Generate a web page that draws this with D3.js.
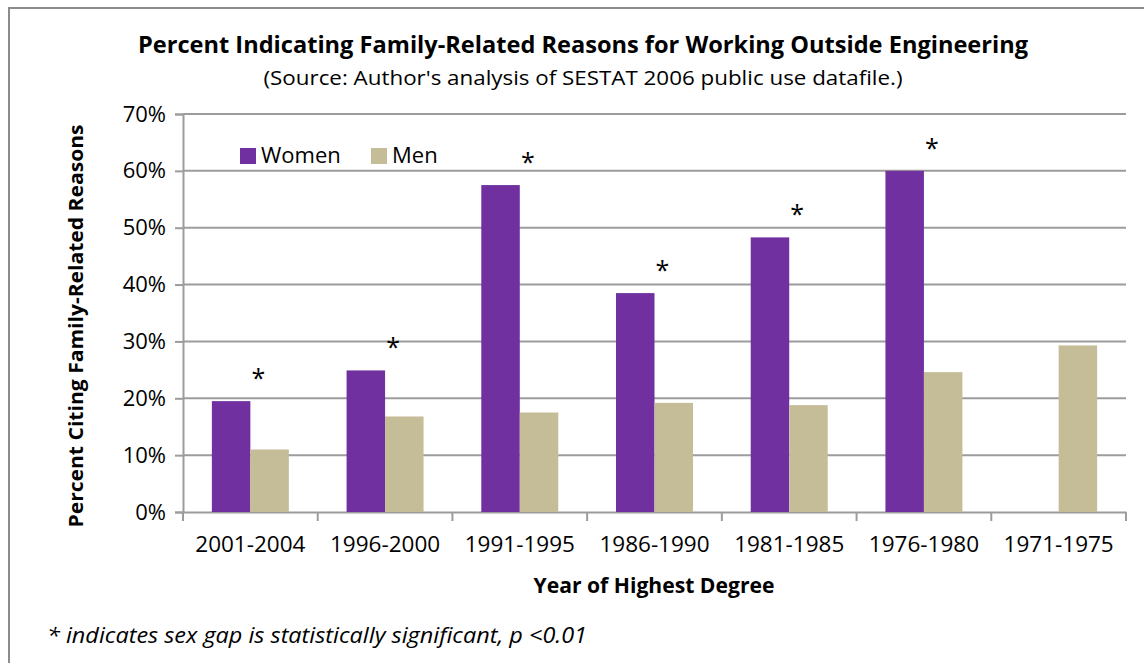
<!DOCTYPE html>
<html>
<head>
<meta charset="utf-8">
<script src="https://cdn.jsdelivr.net/npm/d3@7"></script>
<style>
  body { margin: 0; background: white; }
  text { font-family: "Open Sans", sans-serif; fill: #000; }
</style>
</head>
<body>
<div id="chart"></div>
<script>
// data
var categories = ['2001-2004', '1996-2000', '1991-1995', '1986-1990', '1981-1985', '1976-1980', '1971-1975'];
var women = [0.195, 0.249, 0.575, 0.385, 0.483, 0.600, null];
var men = [0.110, 0.168, 0.175, 0.192, 0.188, 0.246, 0.293];
var significant = [true, true, true, true, true, true, false];
var series = ['Women', 'Men'];
var yTicks = [0, 0.1, 0.2, 0.3, 0.4, 0.5, 0.6, 0.7];

var colors = { Women: '#7030A0', Men: '#C4BD97' };
var grid = '#9C9C9C';

var w = 1144, h = 663;

var svg = d3.select('#chart').append('svg')
  .attr('width', w)
  .attr('height', h);

// outer frame (runs off right and bottom)
svg.append('rect')
  .attr('x', 9).attr('y', 8)
  .attr('width', 1200).attr('height', 700)
  .attr('fill', 'white')
  .attr('stroke', '#8C8C8C')
  .attr('stroke-width', 2);

var x0 = d3.scaleBand().domain(categories).range([183, 1126]);
var x1 = d3.scaleBand().domain(series).range([0, x0.bandwidth()]).paddingOuter(0.75);
var y = d3.scaleLinear().domain([0, 0.7]).range([512, 114]);

// gridlines
svg.append('g').selectAll('line')
  .data(yTicks.slice(1))
  .join('line')
  .attr('x1', 183).attr('x2', 1126)
  .attr('y1', function(d) { return y(d); })
  .attr('y2', function(d) { return y(d); })
  .attr('stroke', grid)
  .attr('stroke-width', 2);

// y axis
var yAxis = svg.append('g')
  .attr('transform', 'translate(183,0)')
  .call(d3.axisLeft(y).tickValues(yTicks).tickFormat(d3.format('.0%')).tickSize(8).tickPadding(9));
yAxis.select('.domain').attr('stroke', grid).attr('stroke-width', 2);
yAxis.selectAll('.tick line').attr('stroke', grid).attr('stroke-width', 2);
yAxis.selectAll('.tick text')
  .attr('font-family', '"Open Sans", sans-serif')
  .attr('font-size', 22)
  .attr('fill', '#000');

// x axis
var xAxis = svg.append('g')
  .attr('transform', 'translate(0,512)')
  .call(d3.axisBottom(x0).tickSize(0).tickSizeOuter(0).tickPadding(24));
xAxis.select('.domain').attr('stroke', grid).attr('stroke-width', 2);
xAxis.selectAll('.tick text')
  .attr('font-family', '"Open Sans", sans-serif')
  .attr('font-size', 22.5)
  .attr('fill', '#000');

// category boundary ticks
svg.append('g').selectAll('line')
  .data(categories.concat(['end']))
  .join('line')
  .attr('x1', function(d, i) { return i < categories.length ? x0(d) : x0.range()[1]; })
  .attr('x2', function(d, i) { return i < categories.length ? x0(d) : x0.range()[1]; })
  .attr('y1', 512).attr('y2', 521)
  .attr('stroke', grid)
  .attr('stroke-width', 2);

// bars
var rows = categories.map(function(c, i) {
  return { cat: c, Women: women[i], Men: men[i], sig: significant[i] };
});

var groups = svg.append('g').selectAll('g')
  .data(rows)
  .join('g')
  .attr('transform', function(d) { return 'translate(' + x0(d.cat) + ',0)'; });

groups.selectAll('rect')
  .data(function(d) {
    return series.filter(function(s) { return d[s] != null; })
      .map(function(s) { return { key: s, value: d[s] }; });
  })
  .join('rect')
  .attr('x', function(d) { return x1(d.key); })
  .attr('width', x1.bandwidth())
  .attr('y', function(d) { return y(d.value); })
  .attr('height', function(d) { return y(0) - y(d.value); })
  .attr('fill', function(d) { return colors[d.key]; });

// significance markers
groups.filter(function(d) { return d.sig; })
  .append('text')
  .attr('x', x0.bandwidth() / 2 + 8)
  .attr('y', function(d) { return y(Math.max(d.Women, d.Men)) - 14; })
  .attr('text-anchor', 'middle')
  .attr('font-size', 25)
  .text('*');

// legend
var legend = svg.append('g').selectAll('g')
  .data(series)
  .join('g')
  .attr('transform', function(d, i) { return 'translate(' + (240 + i * 131) + ',148)'; });
legend.append('rect')
  .attr('width', 16).attr('height', 16)
  .attr('fill', function(d) { return colors[d]; });
legend.append('text')
  .attr('x', 21).attr('y', 15)
  .attr('font-size', 22)
  .text(function(d) { return d; });

// titles
svg.append('text')
  .attr('x', 583).attr('y', 53)
  .attr('text-anchor', 'middle')
  .attr('font-size', 22.5)
  .attr('font-weight', 'bold')
  .attr('textLength', 890)
  .attr('lengthAdjust', 'spacingAndGlyphs')
  .text('Percent Indicating Family-Related Reasons for Working Outside Engineering');

svg.append('text')
  .attr('x', 583).attr('y', 85)
  .attr('text-anchor', 'middle')
  .attr('font-size', 20)
  .attr('textLength', 639)
  .attr('lengthAdjust', 'spacingAndGlyphs')
  .text("(Source: Author's analysis of SESTAT  2006 public use datafile.)");

svg.append('text')
  .attr('transform', 'translate(83,326) rotate(-90)')
  .attr('text-anchor', 'middle')
  .attr('font-size', 20)
  .attr('font-weight', 'bold')
  .attr('textLength', 403)
  .attr('lengthAdjust', 'spacingAndGlyphs')
  .text('Percent Citing Family-Related  Reasons');

svg.append('text')
  .attr('x', 654).attr('y', 593)
  .attr('text-anchor', 'middle')
  .attr('font-size', 21)
  .attr('font-weight', 'bold')
  .attr('textLength', 241)
  .attr('lengthAdjust', 'spacingAndGlyphs')
  .text('Year of Highest  Degree');

svg.append('text')
  .attr('x', 47).attr('y', 643)
  .attr('font-size', 21)
  .attr('font-style', 'italic')
  .attr('textLength', 540)
  .attr('lengthAdjust', 'spacingAndGlyphs')
  .text('* indicates sex gap is statistically  significant,  p <0.01');
</script>
</body>
</html>
